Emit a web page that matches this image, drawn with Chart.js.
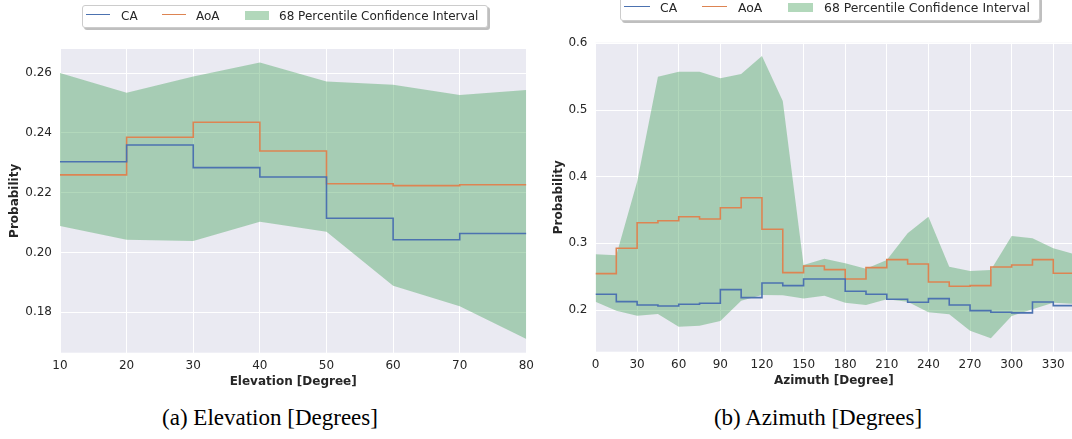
<!DOCTYPE html>
<html>
<head>
<meta charset="utf-8">
<script src="https://cdn.jsdelivr.net/npm/chart.js@4"></script>
<style>
  html, body { margin: 0; padding: 0; background: #fff; }
  body { width: 1072px; height: 439px; position: relative; overflow: hidden; font-family: "DejaVu Sans", sans-serif; color: #262626; }
  canvas { position: absolute; top: 0; }
  #elevChart { left: 0; }
  #aziChart { left: 540px; }
  .legend { position: absolute; background: #fff; border: 1px solid #cccccc; border-radius: 3px; box-shadow: 2px 2px 0 rgba(0,0,0,0.25); box-sizing: border-box; }
  .legend span { position: absolute; white-space: nowrap; }
  .legend .line { height: 0; border-top-width: 1.5px; border-top-style: solid; }
  .legend .patch { background: rgba(85,168,104,0.45); }
  .caption { position: absolute; top: 405px; font-family: "Liberation Serif", serif; font-size: 23px; color: #000; white-space: nowrap; transform: translateX(-50%); }
</style>
</head>
<body>
<canvas id="elevChart" width="540" height="400"></canvas>
<canvas id="aziChart" width="532" height="400"></canvas>

<div class="legend" style="left:82px; top:5px; width:406px; height:23px; font-size:12px;">
  <span class="line" style="left:3px; top:8px; width:24px; border-top-color:#4C72B0;"></span>
  <span style="left:38px; top:3px;">CA</span>
  <span class="line" style="left:79px; top:8px; width:24px; border-top-color:#DD8452;"></span>
  <span style="left:113px; top:3px;">AoA</span>
  <span class="patch" style="left:162px; top:5px; width:24px; height:8.5px;"></span>
  <span style="left:196px; top:3px;">68 Percentile Confidence Interval</span>
</div>
<div class="legend" style="left:620px; top:-4px; width:420px; height:25px; font-size:12.4px;">
  <span class="line" style="left:3px; top:9px; width:26px; border-top-color:#4C72B0;"></span>
  <span style="left:39px; top:3px;">CA</span>
  <span class="line" style="left:81px; top:9px; width:25px; border-top-color:#DD8452;"></span>
  <span style="left:117px; top:3px;">AoA</span>
  <span class="patch" style="left:167px; top:6px; width:25px; height:8.7px;"></span>
  <span style="left:203px; top:3px;">68 Percentile Confidence Interval</span>
</div>

<div class="caption" style="left:270px;">(a) Elevation [Degrees]</div>
<div class="caption" style="left:818px;">(b) Azimuth [Degrees]</div>

<script>
// Elevation subplot: bin edges, step values per bin, CI bounds at edges
const elevEdges = [10, 20, 30, 40, 50, 60, 70, 80];
const caElev = [0.2304, 0.2360, 0.2284, 0.2253, 0.2115, 0.2043, 0.2064];
const aoaElev = [0.2260, 0.2386, 0.2436, 0.2340, 0.2230, 0.2224, 0.2227];
const ciElevHigh = [0.2601, 0.2535, 0.2589, 0.2636, 0.2572, 0.2561, 0.2527, 0.2544];
const ciElevLow = [0.2089, 0.2043, 0.2039, 0.2103, 0.2070, 0.1889, 0.1820, 0.1711];
const elevXTicks = [10, 20, 30, 40, 50, 60, 70, 80];
const elevYTicks = [0.18, 0.20, 0.22, 0.24, 0.26];

// Azimuth subplot
const aziEdges = [0, 15, 30, 45, 60, 75, 90, 105, 120, 135, 150, 165, 180, 195, 210, 225, 240, 255, 270, 285, 300, 315, 330, 345];
const caAzi = [0.2237, 0.2126, 0.2076, 0.2061, 0.2087, 0.2102, 0.2306, 0.2186, 0.2406, 0.2366, 0.2466, 0.2466,
               0.2282, 0.2237, 0.2162, 0.2117, 0.2171, 0.2076, 0.1991, 0.1967, 0.1957, 0.2121, 0.2066];
const aoaAzi = [0.2546, 0.2927, 0.3310, 0.3340, 0.3400, 0.3366, 0.3535, 0.3685, 0.3211, 0.2561, 0.2661, 0.2606,
                0.2466, 0.2636, 0.2756, 0.2691, 0.2421, 0.2357, 0.2366, 0.2646, 0.2676, 0.2756, 0.2552];
const ciAziHigh = [0.2836, 0.2822, 0.3925, 0.5500, 0.5575, 0.5575, 0.5475, 0.5540, 0.5810, 0.5135, 0.2676, 0.2770,
                   0.2701, 0.2621, 0.2750, 0.3151, 0.3400, 0.2650, 0.2586, 0.2601, 0.3111, 0.3076, 0.2927, 0.2840];
const ciAziLow = [0.2126, 0.1991, 0.1916, 0.1941, 0.1751, 0.1766, 0.1837, 0.2141, 0.2226, 0.2222, 0.2174, 0.2216,
                  0.2111, 0.2076, 0.2162, 0.2126, 0.1967, 0.1937, 0.1691, 0.1577, 0.1912, 0.2012, 0.2111, 0.2091];
const aziXTicks = [0, 30, 60, 90, 120, 150, 180, 210, 240, 270, 300, 330];
const aziYTicks = [0.2, 0.3, 0.4, 0.5, 0.6];

Chart.defaults.font.family = '"DejaVu Sans", sans-serif';
Chart.defaults.color = '#262626';

// values per bin -> points at edges, last value repeated at the final edge
function stepPoints(edges, values) {
  const pts = values.map((v, i) => ({ x: edges[i], y: v }));
  pts.push({ x: edges[edges.length - 1], y: values[values.length - 1] });
  return pts;
}
function edgePoints(edges, values) {
  return values.map((v, i) => ({ x: edges[i], y: v }));
}

const plotBg = {
  id: 'plotBg',
  beforeDraw(chart) {
    const { ctx, chartArea: a } = chart;
    ctx.save();
    ctx.fillStyle = '#EAEAF2';
    ctx.fillRect(a.left, a.top, a.right - a.left, a.bottom - a.top);
    ctx.restore();
  }
};

function makeChart(id, s) {
  return new Chart(document.getElementById(id), {
    type: 'line',
    data: {
      datasets: [
        { label: 'CA', data: stepPoints(s.edges, s.ca), borderColor: '#4C72B0', borderWidth: 1.6, stepped: 'before', pointRadius: 0, fill: false },
        { label: 'AoA', data: stepPoints(s.edges, s.aoa), borderColor: '#DD8452', borderWidth: 1.6, stepped: 'before', pointRadius: 0, fill: false },
        { label: '68 Percentile Confidence Interval', data: edgePoints(s.edges, s.hi), borderWidth: 0, pointRadius: 0,
          backgroundColor: 'rgba(85,168,104,0.45)', fill: '+1' },
        { label: 'low', data: edgePoints(s.edges, s.lo), borderWidth: 0, pointRadius: 0, fill: false }
      ]
    },
    options: {
      responsive: false,
      animation: false,
      layout: { padding: s.pad },
      plugins: { legend: { display: false }, tooltip: { enabled: false } },
      scales: {
        x: {
          type: 'linear', min: s.xMin, max: s.xMax,
          afterBuildTicks: ax => { ax.ticks = s.xTicks.map(v => ({ value: v })); },
          afterFit: ax => { ax.height = 36.2; },
          grid: { color: '#ffffff', lineWidth: 1, drawTicks: false },
          border: { display: false },
          ticks: { padding: 6, font: { size: s.tickSize }, color: '#262626', callback: v => String(v) },
          title: { display: true, text: s.xTitle, font: { size: 12, weight: 'bold' }, color: '#262626', padding: { top: 0, bottom: 0 } }
        },
        y: {
          min: s.yMin, max: s.yMax,
          afterBuildTicks: ax => { ax.ticks = s.yTicks.map(v => ({ value: v })); },
          afterFit: ax => { ax.width = s.yWidth; },
          grid: { color: '#ffffff', lineWidth: 1, drawTicks: false },
          border: { display: false },
          ticks: { padding: 8, font: { size: s.tickSize }, color: '#262626', callback: v => v.toFixed(s.yDec) },
          title: { display: true, text: 'Probability', font: { size: 12, weight: 'bold' }, color: '#262626', padding: { top: s.yTitlePad, bottom: 0 } }
        }
      }
    },
    plugins: [plotBg]
  });
}

makeChart('elevChart', {
  edges: elevEdges, ca: caElev, aoa: aoaElev, hi: ciElevHigh, lo: ciElevLow,
  xMin: 10, xMax: 80, yMin: 0.1665, yMax: 0.2681, xTicks: elevXTicks, yTicks: elevYTicks, yDec: 2,
  xTitle: 'Elevation [Degree]', tickSize: 12, yWidth: 60, yTitlePad: 8,
  pad: { left: 0, right: 12, top: 49, bottom: 11.1 }
});

makeChart('aziChart', {
  edges: aziEdges, ca: caAzi, aoa: aoaAzi, hi: ciAziHigh, lo: ciAziLow,
  xMin: 0, xMax: 343.5, yMin: 0.1375, yMax: 0.601, xTicks: aziXTicks, yTicks: aziYTicks, yDec: 1,
  xTitle: 'Azimuth [Degree]', tickSize: 12, yWidth: 55.5, yTitlePad: 12,
  pad: { left: 0, right: 0, top: 42.7, bottom: 12.1 }
});
</script>
</body>
</html>
